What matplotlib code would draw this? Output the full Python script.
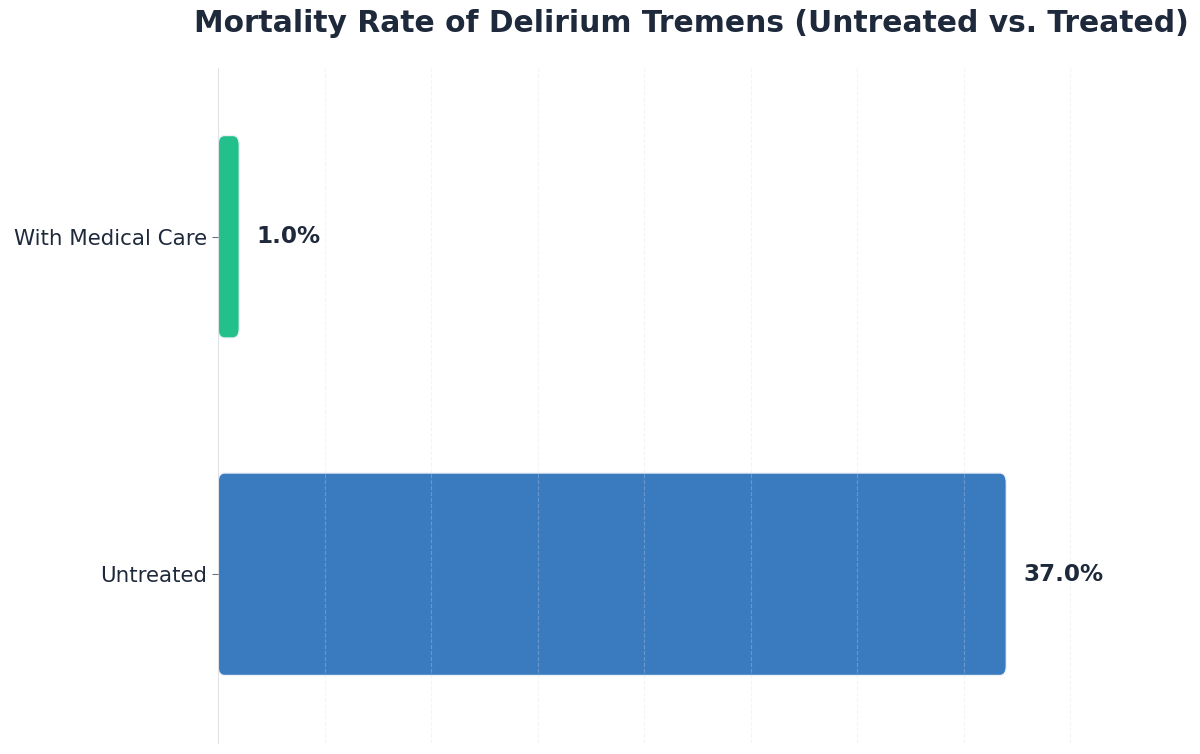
import matplotlib
matplotlib.use("Agg")
import matplotlib.pyplot as plt
from matplotlib.patches import FancyBboxPatch

# данные
categories = ["Untreated", "With Medical Care"]
values = [37.0, 1.0]
colors = ["#3a7bbf", "#24c08b"]
text_color = "#1e293b"

fig = plt.figure(figsize=(12, 7.54), dpi=100)
ax = fig.add_axes([218 / 1200, 11 / 754, (1164 - 218) / 1200, (743 - 68) / 754])

bars = ax.barh(categories, values, height=0.6, color=colors)
ax.set_xlim(0, max(values) * 1.2)
ax.set_ylim(-0.5, 1.5)

# скругленные углы вместо обычных прямоугольников
aspect = (1 / 337) / (1 / 21.3)
for bar, c in zip(bars, colors):
    x0, y0 = bar.get_x(), bar.get_y()
    w, h = bar.get_width(), bar.get_height()
    bar.remove()
    p = FancyBboxPatch((x0, y0), w, h,
                       boxstyle="round,pad=0,rounding_size=0.3",
                       mutation_aspect=aspect * 1.5,
                       facecolor=c, edgecolor="#eef2f7", linewidth=1, zorder=2)
    ax.add_patch(p)

for cat, v in zip(categories, values):
    ax.text(v + 0.8, cat, f"{v:.1f}%", va="center", ha="left",
            fontsize=16.6, fontweight="bold", color=text_color)

ax.set_xticks(range(5, 45, 5))
ax.tick_params(axis="x", length=0, labelbottom=False)
ax.tick_params(axis="y", length=4, color="#6b7280", labelsize=15.4,
               labelcolor=text_color, pad=4)
ax.grid(axis="x", linestyle="--", color="#d5dde8", alpha=0.3, zorder=3)
ax.set_axisbelow(False)

for s in ["top", "right", "bottom"]:
    ax.spines[s].set_visible(False)
ax.spines["left"].set_color("#dfe3e8")

fig.text(691 / 1200, 1 - 24 / 754,
         "Mortality Rate of Delirium Tremens (Untreated vs. Treated)",
         ha="center", va="center", fontsize=21.4, fontweight="bold",
         color=text_color)

fig.savefig("out.png", dpi=100)
